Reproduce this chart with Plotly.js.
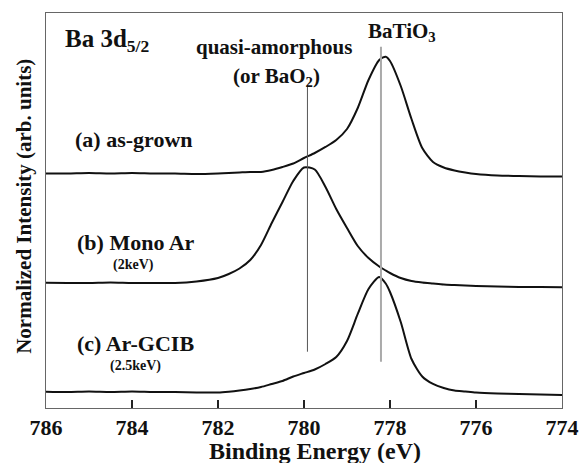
<!DOCTYPE html>
<html>
<head>
<meta charset="utf-8">
<script src="https://cdn.plot.ly/plotly-3.0.1.min.js"></script>
<style>html,body{margin:0;padding:0;background:#fff;}#chart{width:579px;height:463px;}</style>
</head>
<body>
<div id="chart"></div>
<script>
// Binding energy grid (eV)
const energy = [786, 785.5, 785, 784.5, 784, 783.5, 783, 782.5, 782, 781.75, 781.5, 781.25, 781,
  780.75, 780.5, 780.25, 780, 779.75, 779.5, 779.25, 779, 778.75, 778.5, 778.25, 778.1, 778,
  777.75, 777.5, 777.25, 777, 776.75, 776.5, 776.25, 776, 775.5, 775, 774.5, 774];

// (a) as-grown (normalized intensity, offset)
const asGrown = [59.37, 59.37, 59.49, 59.37, 59.49, 59.37, 59.37, 59.24, 59.37, 59.49, 59.62, 59.75, 59.75,
  60.25, 61.01, 61.90, 63.29, 64.56, 66.08, 67.85, 70.63, 75.95, 83.04, 88.10, 88.94, 87.85,
  81.52, 73.16, 65.82, 62.28, 60.89, 60.13, 59.62, 59.24, 58.86, 58.73, 58.61, 58.61];

// (b) Mono Ar (2keV)
const monoAr = [31.72, 31.65, 31.65, 31.77, 31.65, 31.65, 31.65, 32.03, 32.91, 33.92, 35.32, 37.47, 41.27,
  46.84, 52.15, 57.47, 60.89, 60.38, 55.95, 50.38, 45.57, 41.01, 37.97, 35.82, 34.81, 34.18,
  32.91, 32.15, 31.77, 31.52, 31.27, 31.14, 31.01, 30.89, 30.76, 30.63, 30.63, 30.56];

// (c) Ar-GCIB (2.5keV)
const arGCIB = [4.13, 4.05, 4.18, 4.05, 4.18, 4.05, 4.05, 3.92, 3.92, 4.13, 4.43, 4.81, 5.32,
  6.08, 6.84, 7.97, 8.86, 9.75, 11.14, 12.91, 16.96, 23.80, 30.13, 33.16, 31.52, 29.37,
  21.77, 12.41, 7.97, 6.08, 5.06, 4.43, 4.18, 3.92, 3.67, 3.54, 3.42, 3.29];

// Reference lines: energy and vertical extent (in y units)
const refNames = ["quasi-amorphous (or BaO2)", "BaTiO3"];
const refEnergy = [779.92, 778.21];
const refYBottom = [14.25, 11.72];
const refYTop = [81.77, 91.47];
const refColor = ["#555555", "#aaaaaa"];
const refWidth = [1, 2];

const xTicks = [786, 784, 782, 780, 778, 776, 774];

const FONT = "'Liberation Serif', 'Times New Roman', Times, serif";
const ink = "#111111";

const traces = [asGrown, monoAr, arGCIB].map((ys, i) => ({
  type: "scatter", mode: "lines", x: energy, y: ys,
  line: {color: ink, width: 2, shape: "spline", smoothing: 0.7}, hoverinfo: "skip", showlegend: false
}));

const shapes = refEnergy.map((e, i) => ({
  type: "line", xref: "x", yref: "y", x0: e, x1: e, y0: refYBottom[i], y1: refYTop[i],
  line: {color: refColor[i], width: refWidth[i]}
}));

function ann(text, x, y, size, xanchor, extra) {
  return Object.assign({text: "<b>" + text + "</b>", x: x, y: y, xref: "x", yref: "y", showarrow: false,
    xanchor: xanchor || "center", yanchor: "middle",
    font: {family: FONT, size: size, color: ink}}, extra || {});
}

const annotations = [
  ann("Ba 3d<sub>5/2</sub>", 785.6, 93.1, 25, "left"),
  ann("quasi-amorphous", 780.70, 91.4, 21, "center"),
  ann("(or BaO<sub>2</sub>)", 780.65, 83.8, 21, "center"),
  ann("BaTiO<sub>3</sub>", 777.72, 95.1, 21, "center"),
  ann("(a) as-grown", 785.37, 67.85, 22, "left"),
  ann("(b) Mono Ar", 785.33, 41.8, 22, "left"),
  ann("(2keV)", 783.97, 36.2, 14, "center"),
  ann("(c) Ar-GCIB", 785.33, 16.4, 22, "left"),
  ann("(2.5keV)", 783.93, 10.7, 14, "center"),
  {text: "<b>Normalized Intensity (arb. units)</b>", xref: "paper", yref: "paper", x: -0.044, y: 0.51,
   textangle: -90, showarrow: false, xanchor: "center", yanchor: "middle",
   font: {family: FONT, size: 21, color: ink}},
  {text: "<b>Binding Energy (eV)</b>", xref: "paper", yref: "paper", x: 0.522, y: -0.11,
   showarrow: false, xanchor: "center", yanchor: "middle",
   font: {family: FONT, size: 24, color: ink}}
];

const layout = {
  width: 579, height: 463,
  margin: {l: 46, r: 17, t: 13, b: 55},
  paper_bgcolor: "#fff", plot_bgcolor: "#fff",
  showlegend: false,
  font: {family: FONT},
  xaxis: {
    range: [786, 774], tickvals: xTicks, ticktext: xTicks.map(v => "<b>" + v + "</b>"),
    ticks: "inside", ticklen: 8, tickwidth: 2, tickcolor: "#222",
    showgrid: false, zeroline: false, showline: true, mirror: true,
    linecolor: "#666", linewidth: 1,
    tickfont: {family: FONT, size: 22, color: ink}
  },
  yaxis: {
    range: [0, 100], showticklabels: false, ticks: "", showgrid: false, zeroline: false,
    showline: true, mirror: true, linecolor: "#666", linewidth: 1
  },
  shapes: shapes,
  annotations: annotations
};

Plotly.newPlot("chart", traces, layout, {staticPlot: true, displayModeBar: false});
</script>
</body>
</html>
